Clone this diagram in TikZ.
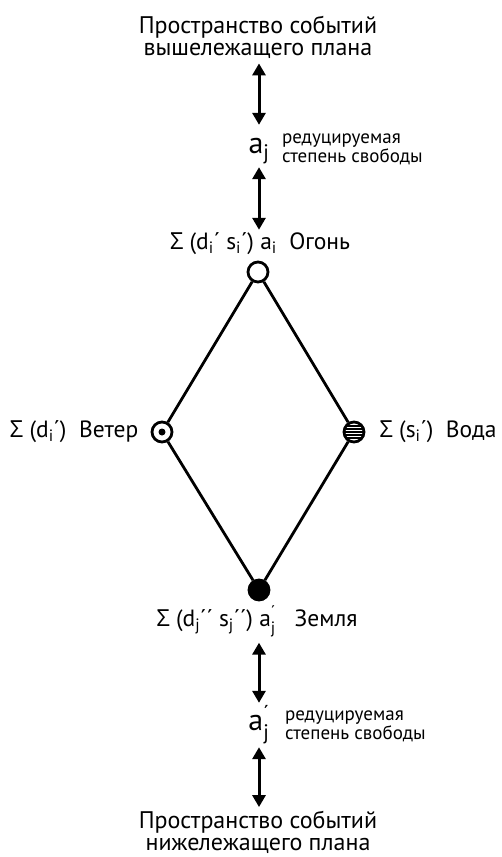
\documentclass[tikz,border=0pt]{standalone}
\usepackage{amsmath}
\usepackage{fontspec}
\setmainfont{PT Sans}
\newfontfamily\greekfont{Open Sans}
\usetikzlibrary{arrows.meta,positioning}
\newcommand{\Sig}{{\greekfont Σ}}
\newcommand{\low}[1]{\textsubscript{#1}}
\newcommand{\lowacc}[1]{$^{\text{´}}_{\text{#1}}$}
\tikzset{
  element/.style={
    circle,
    draw,
    line width=2.8pt,
    minimum size=20pt,
    inner sep=0pt,
    fill=white
  },
  planetext/.style={
    font=\fontsize{24}{22}\selectfont,
    align=center,
    inner sep=1pt
  },
  sumtext/.style={
    font=\fontsize{23.5}{23}\selectfont,
    inner sep=2pt
  },
  freedom/.style={
    font=\fontsize{30}{30}\selectfont,
    text height=15pt,
    text depth=7pt,
    inner sep=0pt
  },
  freenote/.style={
    font=\fontsize{19}{16.5}\selectfont,
    align=left,
    inner sep=0pt
  },
  linkarrow/.style={
    {Triangle[length=12pt,width=13pt]}-{Triangle[length=12pt,width=13pt]},
    line width=3pt
  },
  rib/.style={
    line width=2.8pt
  }
}

\begin{document}
\begin{tikzpicture}[x=1pt, y=-1pt]
    \useasboundingbox (0,0) rectangle (502,857);

    % upper plane
    \node[planetext] (upper) at (258,37) {Пространство событий\\вышележащего плана};
    \node[freedom, anchor=base] (aj) at (259,153) {a\low{j}};
    \node[freenote, anchor=west] (ajnote) at (282,149.5) {редуцируемая\\степень свободы};

    % elements
    \node[sumtext] (firelabel) at (260,244) {\Sig\ (d\low{i}´ s\low{i}´) a\low{i}\ \ Огонь};
    \node[element] (fire) at (258,272) {};
    \node[element, path picture={\fill[black] (path picture bounding box.center) circle (3.5pt);}] (wind) at (162,432) {};
    \node[element, path picture={
        \foreach \dy in {-6,-3,0,3,6}
          \draw[line width=1.6pt] ([yshift=\dy pt]path picture bounding box.west) -- ([yshift=\dy pt]path picture bounding box.east);
      }] (water) at (354,432) {};
    \node[element, fill=black] (earth) at (259,590) {};
    \node[sumtext, left=10pt of wind] (windlabel) {\Sig\ (d\low{i}´)\ \ Ветер};
    \node[sumtext, right=12pt of water] (waterlabel) {\Sig\ (s\low{i}´)\ \ Вода};
    \node[sumtext] (earthlabel) at (257,621) {\Sig\ (d\low{j}´´ s\low{j}´´) a\lowacc{j}\ \ \ Земля};

    % lower plane
    \node[freedom, anchor=base] (ajp) at (259,730) {a\lowacc{j}};
    \node[freenote, anchor=west] (ajpnote) at (285,726) {редуцируемая\\степень свободы};
    \node[planetext] (lower) at (258,832.5) {Пространство событий\\нижележащего плана};

    \draw[rib] (fire) -- (wind);
    \draw[rib] (fire) -- (water);
    \draw[rib] (wind) -- (earth);
    \draw[rib] (water) -- (earth);

    \draw[linkarrow, shorten <=4pt, shorten >=13pt] (aj.north |- upper.south) -- (aj.north);
    \draw[linkarrow, shorten <=7pt, shorten >=1pt] (aj.south) -- (aj.south |- firelabel.north);
    \draw[linkarrow, shorten <=4pt, shorten >=12pt] (ajp.north |- earthlabel.south) -- (ajp.north);
    \draw[linkarrow, shorten <=10pt, shorten >=3pt] (ajp.south) -- (ajp.south |- lower.north);
\end{tikzpicture}
\end{document}
